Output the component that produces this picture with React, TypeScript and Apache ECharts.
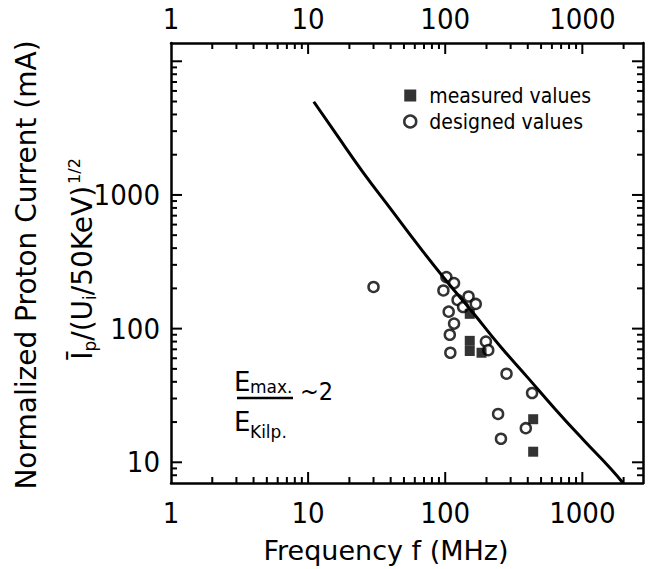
import React, { useEffect, useRef } from "react";
import * as echarts from "echarts";

// ---- data ----
const measuredFreq = [151, 151, 151, 184, 438, 438];
const measuredCurrent = [129, 81, 68, 66, 21, 12];

const designedFreq = [30, 102, 116, 97, 123, 148, 167, 135, 106, 116, 108, 109, 198, 206, 280, 430, 243, 255, 387];
const designedCurrent = [205, 243, 219, 193, 164, 174, 153, 145, 134, 109, 90, 66, 80, 69, 46, 33, 23, 15, 18];

const limitFreq = [11, 16, 25, 40, 63, 100, 160, 250, 400, 630, 1000, 1600, 1980];
const limitCurrent = [4980, 2860, 1490, 787, 425, 233, 131, 74.5, 43, 25.2, 15, 9.04, 7.0];

const xTickLabels = [1, 10, 100, 1000];
const yTickLabels = [10, 100, 1000];
const xMinorTicks = [2, 3, 4, 5, 6, 7, 8, 9, 20, 30, 40, 50, 60, 70, 80, 90, 200, 300, 400, 500, 600, 700, 800, 900, 2000];
const yMinorTicks = [8, 9, 20, 30, 40, 50, 60, 70, 80, 90, 200, 300, 400, 500, 600, 700, 800, 900, 2000, 3000, 4000, 5000, 6000, 7000, 8000, 9000];
const yMajorTicks = [10, 100, 1000, 10000];
const xMajorTicks = [10, 100, 1000];

const X_MIN = 1;
const X_MAX = 2770;
const Y_MIN = 7;
const Y_MAX = 13700;

const TEXT_FONT = "'DejaVu Sans', sans-serif";
const NUM_FONT = "'Liberation Sans Narrow', 'DejaVu Sans Condensed', sans-serif";
const MAJOR_LEN = 11;
const MINOR_LEN = 6;

function fmt(list: number[]) {
  return (v: number) => {
    for (const t of list) {
      if (Math.abs(Math.log10(v) - Math.log10(t)) < 1e-6) return String(t);
    }
    return "";
  };
}

export default function App() {
  const ref = useRef<HTMLDivElement>(null);

  useEffect(() => {
    if (!ref.current) return;
    const chart = echarts.init(ref.current, undefined, { renderer: "svg" });

    const xTickData = [
      ...xMajorTicks.map((v) => [v, 100, MAJOR_LEN]),
      ...xMinorTicks.map((v) => [v, 100, MINOR_LEN]),
    ];
    const yTickData = [
      ...yMajorTicks.map((v) => [10, v, MAJOR_LEN]),
      ...yMinorTicks.map((v) => [10, v, MINOR_LEN]),
    ];

    const axisLine = { show: true, lineStyle: { color: "#000", width: 2.5 } };

    chart.setOption({
      animation: false,
      backgroundColor: "#fff",
      grid: { left: 171, right: 5, top: 43, bottom: 86, containLabel: false },
      xAxis: [
        {
          type: "log",
          logBase: 10,
          min: X_MIN,
          max: X_MAX,
          position: "bottom",
          axisLine,
          axisTick: { show: false },
          splitLine: { show: false },
          axisLabel: {
            formatter: fmt(xTickLabels),
            margin: 15,
            fontSize: 29,
            fontFamily: NUM_FONT,
            color: "#000",
          },
        },
        {
          type: "log",
          logBase: 10,
          min: X_MIN,
          max: X_MAX,
          position: "top",
          axisLine,
          axisTick: { show: false },
          splitLine: { show: false },
          axisLabel: {
            formatter: fmt(xTickLabels),
            margin: 10,
            fontSize: 29,
            fontFamily: NUM_FONT,
            color: "#000",
          },
        },
      ],
      yAxis: [
        {
          type: "log",
          logBase: 10,
          min: Y_MIN,
          max: Y_MAX,
          position: "left",
          axisLine,
          axisTick: { show: false },
          splitLine: { show: false },
          axisLabel: {
            formatter: fmt(yTickLabels),
            margin: 11,
            fontSize: 29,
            fontFamily: NUM_FONT,
            color: "#000",
          },
        },
        {
          type: "log",
          logBase: 10,
          min: Y_MIN,
          max: Y_MAX,
          position: "right",
          axisLine,
          axisTick: { show: false },
          splitLine: { show: false },
          axisLabel: { show: false },
        },
      ],
      legend: {
        orient: "vertical",
        left: 398,
        top: 80,
        itemWidth: 12,
        itemHeight: 12,
        itemGap: 5,
        textStyle: {
          fontSize: 21,
          fontFamily: "'DejaVu Sans Condensed', sans-serif",
          color: "#000",
          padding: [0, 0, 0, 8],
        },
        data: [
          { name: "measured values", icon: "rect", itemStyle: { color: "#000" } },
          {
            name: "designed values",
            icon: "circle",
            itemStyle: { color: "#fff", borderColor: "#000", borderWidth: 2.5 },
          },
        ],
      },
      series: [
        {
          type: "custom",
          name: "xticks",
          xAxisIndex: 0,
          yAxisIndex: 0,
          clip: false,
          silent: true,
          encode: { x: 0, y: 1 },
          data: xTickData,
          renderItem: (params: any, api: any) => {
            const cs = params.coordSys;
            const px = api.coord([api.value(0), api.value(1)])[0];
            const len = api.value(2);
            const bottom = cs.y + cs.height;
            return {
              type: "group",
              children: [
                { type: "line", shape: { x1: px, y1: bottom, x2: px, y2: bottom - len }, style: { stroke: "#000", lineWidth: 2 } },
                { type: "line", shape: { x1: px, y1: cs.y, x2: px, y2: cs.y + len }, style: { stroke: "#000", lineWidth: 2 } },
              ],
            };
          },
        },
        {
          type: "custom",
          name: "yticks",
          xAxisIndex: 0,
          yAxisIndex: 0,
          clip: false,
          silent: true,
          encode: { x: 0, y: 1 },
          data: yTickData,
          renderItem: (params: any, api: any) => {
            const cs = params.coordSys;
            const py = api.coord([api.value(0), api.value(1)])[1];
            const len = api.value(2);
            const right = cs.x + cs.width;
            return {
              type: "group",
              children: [
                { type: "line", shape: { x1: cs.x, y1: py, x2: cs.x + len, y2: py }, style: { stroke: "#000", lineWidth: 2 } },
                { type: "line", shape: { x1: right, y1: py, x2: right - len, y2: py }, style: { stroke: "#000", lineWidth: 2 } },
              ],
            };
          },
        },
        {
          type: "line",
          name: "limit",
          data: limitFreq.map((f, i) => [f, limitCurrent[i]]),
          smooth: true,
          symbol: "none",
          clip: true,
          lineStyle: { color: "#000", width: 3 },
        },
        {
          type: "scatter",
          name: "designed values",
          data: designedFreq.map((f, i) => [f, designedCurrent[i]]),
          symbol: "circle",
          symbolSize: 10,
          itemStyle: { color: "#fff", borderColor: "#000", borderWidth: 2.5 },
        },
        {
          type: "scatter",
          name: "measured values",
          data: measuredFreq.map((f, i) => [f, measuredCurrent[i]]),
          symbol: "rect",
          symbolSize: 10,
          itemStyle: { color: "#000" },
        },
      ],
      graphic: [
        {
          type: "text",
          x: 26,
          y: 265,
          rotation: Math.PI / 2,
          style: {
            text: "Normalized Proton Current (mA)",
            fontSize: 28,
            fontFamily: TEXT_FONT,
            fill: "#000",
            align: "center",
            verticalAlign: "middle",
          },
        },
        {
          type: "text",
          x: 82,
          y: 259,
          rotation: Math.PI / 2,
          style: {
            text: "{b|Ī}{s|p}{b|/(U}{s|i}{b|/50KeV)}{u|1/2}",
            align: "center",
            verticalAlign: "middle",
            fill: "#000",
            rich: {
              b: { fontSize: 28, fontFamily: TEXT_FONT, fill: "#000" },
              s: { fontSize: 17, fontFamily: TEXT_FONT, fill: "#000", padding: [16, 0, 0, 0] },
              u: { fontSize: 16, fontFamily: TEXT_FONT, fill: "#000", padding: [0, 0, 16, 2] },
            },
          },
        },
        {
          type: "text",
          x: 386,
          y: 550,
          style: {
            text: "Frequency f (MHz)",
            fontSize: 27,
            fontFamily: TEXT_FONT,
            fill: "#000",
            align: "center",
            verticalAlign: "middle",
          },
        },
        // E_max. / E_Kilp. ~ 2 annotation
        {
          type: "text",
          x: 234,
          y: 382,
          style: { text: "E", fontSize: 26, fontFamily: TEXT_FONT, fill: "#000", align: "left", verticalAlign: "middle" },
        },
        {
          type: "text",
          x: 250,
          y: 387,
          style: { text: "max.", fontSize: 17, fontFamily: TEXT_FONT, fill: "#000", align: "left", verticalAlign: "middle" },
        },
        {
          type: "line",
          shape: { x1: 237, y1: 398, x2: 293, y2: 398 },
          style: { stroke: "#000", lineWidth: 2.5 },
        },
        {
          type: "text",
          x: 234,
          y: 422,
          style: { text: "E", fontSize: 26, fontFamily: TEXT_FONT, fill: "#000", align: "left", verticalAlign: "middle" },
        },
        {
          type: "text",
          x: 250,
          y: 432,
          style: { text: "Kilp.", fontSize: 17, fontFamily: TEXT_FONT, fill: "#000", align: "left", verticalAlign: "middle" },
        },
        {
          type: "text",
          x: 300,
          y: 391,
          style: { text: "~2", fontSize: 25, fontFamily: NUM_FONT, fill: "#000", align: "left", verticalAlign: "middle" },
        },
      ],
    });

    return () => chart.dispose();
  }, []);

  return (
    <div
      ref={ref}
      style={{ position: "fixed", left: 0, top: 0, width: 648, height: 569, background: "#fff" }}
    />
  );
}
